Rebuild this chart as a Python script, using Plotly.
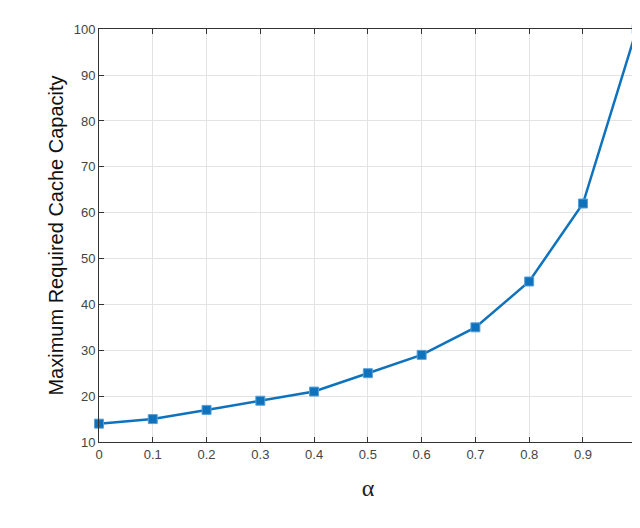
import plotly.graph_objects as go

alpha = [0, 0.1, 0.2, 0.3, 0.4, 0.5, 0.6, 0.7, 0.8, 0.9, 1.0]
capacity = [14, 15, 17, 19, 21, 25, 29, 35, 45, 62, 100]
x_ticks = [0, 0.1, 0.2, 0.3, 0.4, 0.5, 0.6, 0.7, 0.8, 0.9, 1]
y_ticks = [10, 20, 30, 40, 50, 60, 70, 80, 90, 100]

blue = "#0f72bd"
fig = go.Figure()
fig.add_trace(go.Scatter(x=alpha, y=capacity, mode="lines+markers", cliponaxis=False,
                         line=dict(color=blue, width=2.5),
                         marker=dict(symbol="square", size=9, color=blue,
                                     line=dict(color="#5aa0d8", width=1)),
                         showlegend=False))

axis_common = dict(showline=True, linecolor="#333", linewidth=1, mirror="ticks",
                   ticks="inside", ticklen=5, tickcolor="#333",
                   showgrid=True, gridcolor="#e3e3e3", zeroline=False,
                   tickfont=dict(family="Arial, Liberation Sans", size=13, color="#444"))
fig.update_xaxes(range=[0, 1.0005], tickvals=x_ticks, ticktext=[str(v) for v in x_ticks],
                 title=dict(text="α", font=dict(family="Liberation Serif", size=24, color="#222"),
                            standoff=18),
                 **axis_common)
fig.update_yaxes(range=[10, 100.05], tickvals=y_ticks,
                 title=dict(text="Maximum Required Cache Capacity",
                            font=dict(family="Arial, Liberation Sans", size=20, color="#111"),
                            standoff=4),
                 **axis_common)
fig.add_annotation(text="Fig. 11", xref="paper", yref="paper", x=-0.17, y=-0.245,
                   xanchor="left", yanchor="top", showarrow=False,
                   font=dict(family="Liberation Serif", size=16, color="#333"))
fig.update_layout(width=640, height=528, margin=dict(l=91, r=8, t=21, b=94),
                  plot_bgcolor="white", paper_bgcolor="white")
fig.write_html("out.html")
